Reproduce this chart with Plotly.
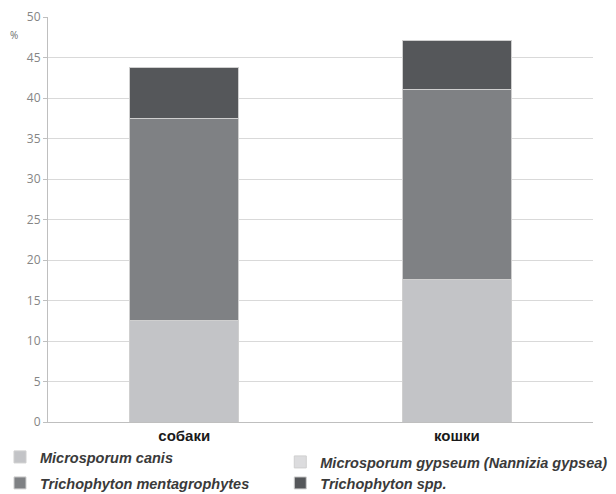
import plotly.graph_objects as go

# Share of isolated dermatophyte species, %
categories = ["собаки", "кошки"]
microsporum_canis = [12.5, 17.6]
microsporum_gypseum = [0.0, 0.0]
trichophyton_mentagrophytes = [25.0, 23.5]
trichophyton_spp = [6.3, 6.0]

series = [
    ("Microsporum canis", microsporum_canis, "#c3c4c7", "legend"),
    ("Microsporum gypseum (Nannizia gypsea)", microsporum_gypseum, "#dcdcde", "legend2"),
    ("Trichophyton mentagrophytes", trichophyton_mentagrophytes, "#7f8184", "legend3"),
    ("Trichophyton spp.", trichophyton_spp, "#55575a", "legend4"),
]

fig = go.Figure()
for name, values, color, lg in series:
    fig.add_trace(go.Bar(
        name=name, x=categories, y=values,
        marker=dict(color=color, line=dict(color="#cfcfcf", width=1)),
        legend=lg,
    ))

legend_font = dict(family="Liberation Sans, Arial, sans-serif", size=14.5,
                   color="#3a3a3a", weight="bold", style="italic")


def legend_box(x, y):
    return dict(x=x, y=y, xref="container", yref="container",
                xanchor="left", yanchor="middle", orientation="h",
                font=legend_font, bgcolor="rgba(0,0,0,0)",
                itemwidth=30, tracegroupgap=0)


fig.update_layout(
    width=616, height=494,
    margin=dict(l=48, r=23, t=17, b=72, autoexpand=False),
    plot_bgcolor="white", paper_bgcolor="white",
    barmode="stack", bargap=0.6,
    showlegend=True,
    legend=legend_box(-0.005, 1 - 457 / 494),
    legend2=legend_box(0.455, 1 - 462 / 494),
    legend3=legend_box(-0.005, 1 - 483 / 494),
    legend4=legend_box(0.455, 1 - 483 / 494),
    xaxis=dict(
        showgrid=False, showline=True, linecolor="#bfbfbf", linewidth=1,
        tickfont=dict(family="Liberation Sans, Arial, sans-serif", size=15,
                      color="#1a1a1a", weight="bold"),
        ticks="", fixedrange=True, automargin=False,
    ),
    yaxis=dict(
        range=[0, 50], dtick=5, showgrid=True, gridcolor="#d9d9d9", gridwidth=1,
        showline=True, linecolor="#bfbfbf", linewidth=1,
        ticks="outside", ticklen=4, tickcolor="#bfbfbf",
        tickfont=dict(family="Open Sans, sans-serif", size=12, color="#858585"),
        zeroline=False, automargin=False,
    ),
    annotations=[dict(
        text="%", xref="paper", yref="paper", x=-0.062, y=0.955,
        xanchor="center", yanchor="middle", showarrow=False,
        font=dict(family="Open Sans, sans-serif", size=10, color="#707070"),
    )],
)

fig.write_html("out.html")
